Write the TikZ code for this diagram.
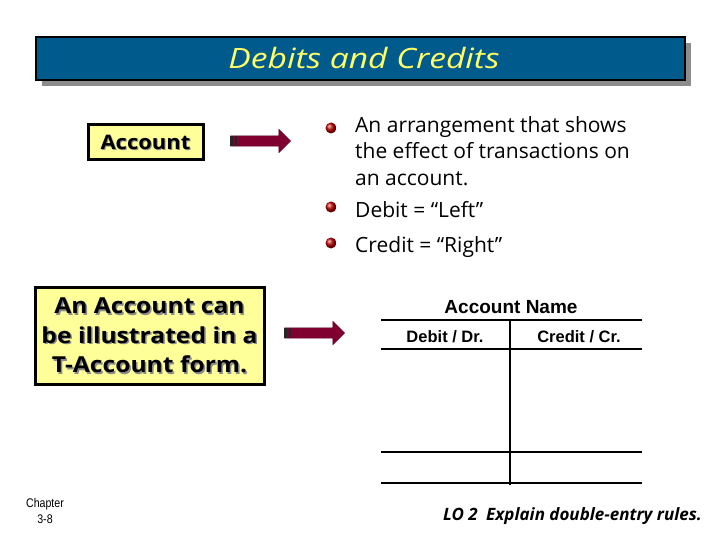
\documentclass[tikz,border=0pt]{standalone}
\usepackage{fontspec}
\setmainfont{Open Sans}
\newfontfamily\arialfont{Liberation Sans}
\usetikzlibrary{shapes.arrows, shadows, positioning}

\definecolor{titleblue}{RGB}{0,90,140}
\definecolor{titleyellow}{RGB}{255,255,102}
\definecolor{boxyellow}{RGB}{255,255,153}
\definecolor{arrowred}{RGB}{128,0,48}
\definecolor{ballred}{RGB}{190,0,0}

\tikzset{
  yellowbox/.style={draw=black, line width=3pt, fill=boxyellow, inner sep=0pt},
  boxtext/.style={font=\bfseries\fontsize{22}{29.5}\selectfont, align=center, inner sep=0pt, xscale=1.12},
  accttext/.style={font=\bfseries\fontsize{20}{22}\selectfont, inner sep=0pt, xscale=1.1},
  bigarrow/.style={single arrow, fill=arrowred, draw=arrowred!70!black, minimum height=60pt,
    inner xsep=0pt, inner ysep=5pt, single arrow head extend=6.5pt, single arrow head indent=0pt},
  itemtext/.style={anchor=north west, align=left, inner sep=0pt, font=\fontsize{21}{26.5}\selectfont},
  ball/.style={ball color=ballred},
  tline/.style={line width=2.5pt},
  ttext/.style={font=\arialfont\bfseries\fontsize{16.5}{18}\selectfont, anchor=base, inner sep=0pt},
}

\begin{document}
\begin{tikzpicture}[x=1pt, y=-1pt]
  \useasboundingbox (0,0) rectangle (720,540);
  % title bar
  \node[draw=black, line width=2pt, fill=titleblue, minimum width=649pt, minimum height=43pt,
    drop shadow={fill=black!45, opacity=1, shadow xshift=6pt, shadow yshift=-6pt}]
    (title) at (360.5,58.5) {};
  \node[text=titleyellow, font=\itshape\fontsize{28}{30}\selectfont, xscale=1.2] (titletext) at (364,58) {Debits and Credits};

  % first box and arrow
  \node[yellowbox, minimum width=115pt, minimum height=35pt] (acct) at (145.5,142.5) {};
  \node[accttext, text=black!45] (acctsh) at (146.5,143.5) {Account};
  \node[accttext] (accttext) at (acct.center) {Account};
  \node[bigarrow] (arr1) at (258,141) {};
  \fill[black!85] (arr1.tail) ++(0,-5) rectangle ++(3,10);
  \fill[black!85] (arr1.tail) ++(5,-5) rectangle ++(2,10);

  % bullet points
  \node[itemtext] (item1) at (355,116) {An arrangement that shows\\the effect of transactions on\\an account.};
  \node[itemtext] (item2) at (355,201) {Debit = “Left”};
  \node[itemtext] (item3) at (355,236) {Credit = “Right”};
  \shade[ball] (331,128) circle (5.5pt);
  \shade[ball] (331,207) circle (5.5pt);
  \shade[ball] (331,243) circle (5.5pt);

  % second box and arrow
  \node[yellowbox, minimum width=229pt, minimum height=97pt] (tbox) at (149.5,335.5) {};
  \node[boxtext, text=black!45] (tboxsh) at (151,337) {An Account can\\be illustrated in a\\T-Account form.};
  \node[boxtext] (tboxtext) at (tbox.center) {An Account can\\be illustrated in a\\T-Account form.};
  \node[bigarrow] (arr2) at (312,333) {};
  \fill[black!85] (arr2.tail) ++(0,-5) rectangle ++(3,10);
  \fill[black!85] (arr2.tail) ++(5,-5) rectangle ++(2,10);

  % T-account
  \node[ttext, font=\arialfont\bfseries\fontsize{19}{20}\selectfont] (tname) at (511,313) {Account Name};
  \node[ttext] (tdebit) at (445,342) {Debit / Dr.};
  \node[ttext] (tcredit) at (579,342) {Credit / Cr.};
  \draw[tline] (381,320) -- (642,320);
  \draw[tline] (381,349) -- (642,349);
  \draw[tline] (381,452) -- (642,452);
  \draw[tline] (381,483) -- (642,483);
  \draw[tline] (510,320) -- (510,485);

  % footer
  \node[font=\arialfont\fontsize{12.5}{16}\selectfont, align=center, xscale=0.85] (chap) at (45,511) {Chapter\\3-8};
  \node[font=\bfseries\itshape\fontsize{17}{18}\selectfont, anchor=base east, inner sep=0pt] (lo) at (702,520)
    {LO 2\enspace Explain double-entry rules.};
\end{tikzpicture}
\end{document}
